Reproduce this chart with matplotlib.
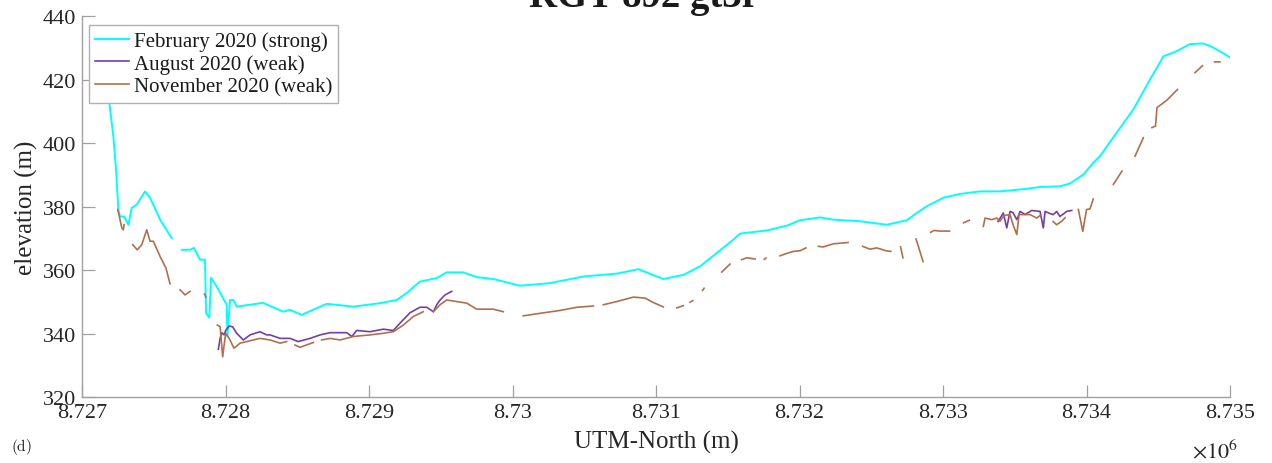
import numpy as np
import matplotlib
matplotlib.use("Agg")
import matplotlib.pyplot as plt

nan = np.nan

# February 2020 (strong beam) - UTM-North (m) / elevation (m)
feb_x = [8727153, 8727190, 8727218, 8727237, 8727253, 8727265, 8727295, 8727323, 8727346, 8727381,
         8727439, 8727474, 8727544, 8727625, nan,
         8727695, 8727753, 8727780, 8727822, 8727857, 8727864, 8727887, 8727899, 8727939, 8728008,
         8728013, 8728031, 8728054, 8728078, 8728171, 8728261, 8728403, 8728449, 8728531, 8728610,
         8728705, 8728891, 8729077, 8729193, 8729263, 8729355, 8729472, 8729541, 8729657, 8729750,
         8729866, 8730052, 8730261, 8730493, 8730726, 8730877, 8731051, 8731190, 8731307, 8731423,
         8731539, 8731585, 8731771, 8731911, 8732003, 8732143, 8732236, 8732422, 8732608, 8732747,
         8732817, 8732886, 8733002, 8733118, 8733258, 8733397, 8733583, 8733676, 8733815, 8733885,
         8733978, 8734047, 8734094, 8734210, 8734326, 8734443, 8734535, 8734629, 8734721, 8734814,
         8734884, 8734953, 8735000]
feb_y = [426.4, 412.8, 402.2, 391.7, 379.1, 376.9, 376.8, 374.3, 379.6, 380.6,
         384.8, 382.8, 375.9, 370.1, nan,
         366.4, 366.4, 367.0, 363.3, 363.3, 346.5, 345.0, 357.6, 354.8, 349.1,
         339.1, 350.6, 350.6, 348.5, 349.1, 349.7, 346.9, 347.5, 345.9, 347.5,
         349.4, 348.5, 349.6, 350.6, 352.8, 356.4, 357.5, 359.3, 359.3, 357.8,
         357.2, 355.1, 355.9, 358.0, 358.9, 360.3, 357.2, 358.5, 361.2, 365.4,
         369.6, 371.5, 372.5, 374.0, 375.7, 376.6, 375.9, 375.4, 374.3, 375.7,
         378.0, 380.1, 382.8, 384.0, 384.8, 384.8, 385.6, 386.2, 386.4, 387.3,
         390.1, 393.8, 395.9, 403.3, 410.6, 420.1, 427.3, 429.0, 431.2, 431.4,
         430.1, 428.3, 427.0]

# August 2020 (weak beam)
aug_x = [8727950, 8727962, 8727974, 8727990, 8728003, 8728027, 8728050, 8728078, 8728124, 8728171,
         8728240, 8728287, 8728310, 8728380, 8728449, 8728507, 8728589, 8728659, 8728728, 8728845,
         8728880, 8728914, 8729007, 8729100, 8729169, 8729216, 8729286, 8729355, 8729402, 8729448,
         8729472, 8729495, 8729530, 8729576, nan,
         8733383, 8733420, 8733444, 8733467, 8733488, 8733514, 8733537, 8733572, 8733618, 8733676,
         8733699, 8733711, 8733746, 8733769, 8733792, 8733815, 8733862, 8733897]
aug_y = [335.1, 338.5, 340.3, 339.6, 341.2, 342.4, 342.1, 340.1, 338.0, 339.6,
         340.6, 339.6, 339.6, 338.5, 338.5, 337.5, 338.5, 339.6, 340.3, 340.3,
         339.1, 341.0, 340.6, 341.4, 341.0, 343.3, 346.6, 348.3, 348.3, 346.9,
         349.1, 350.6, 352.2, 353.3, nan,
         375.3, 378.0, 373.3, 378.5, 378.1, 375.9, 378.5, 377.5, 378.8, 378.5,
         373.3, 378.5, 377.8, 377.5, 378.5, 376.9, 378.5, 378.8]

# November 2020 (weak beam), gaps marked with nan
nov_x = [8727249, 8727260, 8727277, 8727288, 8727293, nan,
         8727353, 8727385, 8727416, 8727451, 8727463, 8727474, 8727497, 8727544, 8727585, 8727613, nan,
         8727683, 8727718, 8727753, nan,
         8727854, 8727864, nan,
         8727943, 8727962, 8727980, 8727990, 8728001, 8728024, 8728059, 8728101, 8728148, 8728240,
         8728310, 8728380, 8728426, nan,
         8728484, 8728519, 8728612, nan,
         8728670, 8728728, 8728798, 8728891, 8729007, 8729100, 8729169, 8729239, 8729309, 8729378, nan,
         8729448, 8729495, 8729541, 8729611, 8729681, 8729750, 8729866, 8729936, nan,
         8730075, 8730192, 8730331, 8730447, 8730563, nan,
         8730633, 8730726, 8730842, 8730923, 8730981, 8731051, nan,
         8731144, 8731190, nan,
         8731237, 8731256, nan,
         8731324, 8731335, nan,
         8731458, 8731516, nan,
         8731597, 8731634, 8731690, nan,
         8731754, 8731766, nan,
         8731864, 8731906, 8731957, 8732003, 8732045, nan,
         8732131, 8732164, 8732236, 8732338, nan,
         8732440, 8732491, 8732538, 8732603, 8732636, nan,
         8732704, 8732721, nan,
         8732812, 8732861, nan,
         8732914, 8732937, 8732979, 8733045, nan,
         8733143, 8733183, nan,
         8733281, 8733293, 8733339, 8733374, 8733397, 8733425, 8733467, 8733488, 8733514, 8733530,
         8733606, 8733653, 8733676, nan,
         8733767, 8733792, 8733827, 8733851, nan,
         8733943, 8733974, 8734000, 8734024, 8734047, nan,
         8734187, 8734247, nan,
         8734338, 8734396, nan,
         8734456, 8734481, 8734491, 8734559, 8734634, nan,
         8734756, 8734777, 8734808, nan,
         8734892, 8734930]
nov_y = [379.1, 376.9, 373.3, 372.7, 374.3, nan,
         368.0, 366.4, 368.0, 372.7, 370.8, 369.1, 369.1, 364.3, 360.6, 355.7, nan,
         353.8, 352.2, 353.3, nan,
         352.5, 351.4, nan,
         342.7, 342.2, 332.7, 336.4, 340.1, 338.6, 335.4, 337.0, 337.5, 338.5,
         338.0, 337.0, 337.5, nan,
         336.4, 335.7, 337.2, nan,
         338.0, 338.5, 338.0, 339.1, 339.6, 340.1, 340.6, 342.7, 345.4, 346.9, nan,
         346.9, 349.1, 350.6, 350.1, 349.6, 347.7, 347.7, 346.9, nan,
         345.6, 346.4, 347.3, 348.3, 348.7, nan,
         349.1, 350.1, 351.5, 351.2, 349.8, 348.4, nan,
         348.1, 348.8, nan,
         349.9, 350.4, nan,
         353.6, 354.3, nan,
         359.4, 361.9, nan,
         363.3, 363.9, 363.5, nan,
         363.4, 363.8, nan,
         364.5, 365.2, 365.9, 366.1, 367.0, nan,
         367.5, 367.3, 368.3, 368.7, nan,
         367.5, 366.6, 367.0, 366.1, 365.9, nan,
         367.3, 363.9, nan,
         369.8, 362.7, nan,
         371.9, 372.5, 372.3, 372.3, nan,
         374.9, 375.7, nan,
         373.8, 376.4, 375.9, 376.4, 375.4, 377.2, 377.5, 374.3, 371.2, 377.5,
         377.5, 376.4, 377.2, nan,
         375.3, 374.3, 375.4, 376.5, nan,
         379.1, 372.2, 379.1, 379.3, 382.4, nan,
         387.0, 391.2, nan,
         395.9, 401.7, nan,
         404.9, 405.4, 411.2, 413.5, 416.9, nan,
         422.2, 423.1, 424.4, nan,
         425.6, 425.6]

labels = ["February 2020 (strong)", "August 2020 (weak)", "November 2020 (weak)"]
x_ticks = [8727000, 8728000, 8729000, 8730000, 8731000, 8732000, 8733000, 8734000, 8735000]
x_tick_labels = ["8.727", "8.728", "8.729", "8.73", "8.731", "8.732", "8.733", "8.734", "8.735"]
y_ticks = [320, 340, 360, 380, 400, 420, 440]

plt.rcParams['font.family'] = ['Liberation Serif', 'DejaVu Serif']
plt.rcParams['mathtext.fontset'] = 'stix'

fig = plt.figure(figsize=(12.72, 4.64), dpi=100)
ax = fig.add_axes([0.0645, 0.142, 0.9025, 0.821])

ax.plot(feb_x, feb_y, color='#00FFFF', lw=1.4, label=labels[0])
ax.plot(aug_x, aug_y, color='#7440A0', lw=1.2, label=labels[1])
ax.plot(nov_x, nov_y, color='#B0704E', lw=1.2, label=labels[2])

ax.set_xlim(8727000, 8735000)
ax.set_ylim(320, 440)
ax.set_xticks(x_ticks)
ax.set_xticklabels(x_tick_labels)
ax.set_yticks(y_ticks)

for side in ['top', 'right']:
    ax.spines[side].set_visible(False)
for side in ['left', 'bottom']:
    ax.spines[side].set_color('#A0A0A0')
    ax.spines[side].set_linewidth(1.0)
ax.tick_params(direction='in', length=9, width=0.9, color='#A0A0A0',
               labelsize=16, labelcolor='#262626', pad=4)

ax.set_xlabel("UTM-North (m)", fontsize=18, color='#262626', labelpad=6)
ax.set_ylabel("elevation (m)", fontsize=18, color='#262626', labelpad=4)

leg = ax.legend(loc='upper left', bbox_to_anchor=(0.006, 0.977), borderaxespad=0,
                fontsize=15, frameon=True, fancybox=False, framealpha=1.0,
                handlelength=1.6, handletextpad=0.25, labelspacing=0.15, borderpad=0.3)
leg.get_frame().set_edgecolor('#B0B0B0')
leg.get_frame().set_linewidth(1.0)
for t in leg.get_texts():
    t.set_color('#1a1a1a')

fig.text(0.506, 0.985, "RGT 892 gt3r", fontsize=28, fontweight='bold',
         ha='center', va='baseline', color='#1a1a1a')
fig.text(0.973, 0.012, r"$\times10^{6}$", fontsize=16, ha='right', va='baseline',
         color='#262626')
fig.text(0.009, 0.028, r"$\mathrm{(d)}$", fontsize=11, math_fontfamily='cm',
         ha='left', va='baseline', color='#1a1a1a')

fig.savefig("out.png", dpi=100)
